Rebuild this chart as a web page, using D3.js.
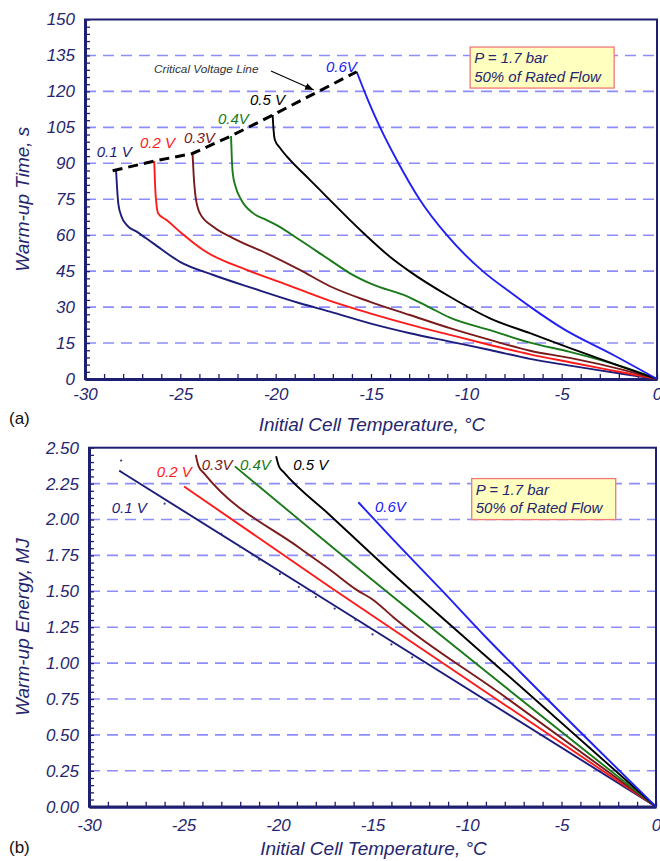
<!DOCTYPE html>
<html><head><meta charset="utf-8">
<script src="https://cdn.jsdelivr.net/npm/d3@7"></script>
<style>
html,body{margin:0;padding:0;background:#fff;}
svg{display:block;font-family:"Liberation Sans",Arial,sans-serif;}
.it{font-style:italic;}
</style></head>
<body><svg id="c" width="660" height="861"></svg>
<script>
// ---------- DATA ----------
const tempTicks = [-30, -25, -20, -15, -10, -5, 0];
const timeTicks = [0, 15, 30, 45, 60, 75, 90, 105, 120, 135, 150];
const energyTicks = [0, 0.25, 0.5, 0.75, 1.0, 1.25, 1.5, 1.75, 2.0, 2.25, 2.5];
const voltages = ["0.1 V", "0.2 V", "0.3V", "0.4V", "0.5 V", "0.6V"];
const seriesColors = ["#1c1c7a", "#ff1a1a", "#7a1a1a", "#1a7a1a", "#000000", "#2020f5"];

// (a) warm-up time [temperature °C, time s]
const timeV01 = [[-28.37,86.9],[-28.32,80],[-28.25,73],[-28.08,67.7],[-27.81,64.2],[-27.29,61.5],[-26.42,56.6],[-25.02,48.9],[-23.27,43.4],[-21.17,37.8],[-18.73,31.6],[-17.15,28.1],[-15.05,23.2],[-12.96,19.1],[-10.86,15.6],[-8.76,12.1],[-6.66,8.4],[-4.57,5.6],[-3.17,3.8],[-1.77,2.1],[0,0]];
const timeV02 = [[-26.37,90.9],[-26.32,80],[-26.24,72],[-26.16,69.1],[-25.72,66.3],[-24.93,60.8],[-23.8,53.8],[-21.52,45.5],[-19.6,39.9],[-17.15,32.6],[-15.05,27.4],[-12.96,22.7],[-10.86,18.4],[-8.76,14.2],[-6.66,10.3],[-4.57,7.0],[-1.77,2.7],[0,0]];
const timeV03 = [[-24.36,94.1],[-24.3,85],[-24.2,76],[-23.97,69.1],[-23.27,63.5],[-22.22,58.7],[-20.47,52.4],[-18.73,45.5],[-17.15,38.7],[-15.05,32.2],[-12.96,26.7],[-10.86,21.2],[-8.76,16.3],[-6.66,11.8],[-4.57,8.8],[-1.77,3.8],[0,0]];
const timeV04 = [[-22.34,101.4],[-22.3,92],[-22.25,85.8],[-22.1,80.2],[-21.8,74.7],[-21.17,69.1],[-20.47,66.3],[-19.95,64.2],[-18.73,58.0],[-17.15,49.6],[-16.1,44.1],[-15.05,39.9],[-12.96,34.0],[-11.91,29.8],[-10.86,25.6],[-8.76,20.4],[-6.66,15.2],[-4.57,11.3],[-1.77,5.0],[0,0]];
const timeV05 = [[-20.16,110.2],[-20.11,103.9],[-20.04,99.7],[-19.77,96.4],[-19.25,91.4],[-18.46,85.1],[-17.68,78.9],[-17.15,74.6],[-15.4,60.9],[-14.01,51.0],[-12.96,44.8],[-10.86,34.3],[-8.76,25.3],[-6.66,19.1],[-4.56,12.9],[-1.94,5.4],[0,0]];
const timeV06 = [[-15.75,128.2],[-15.16,116.4],[-14.53,105.1],[-13.65,91.4],[-12.43,74.7],[-11.03,60.1],[-9.11,44.8],[-7.71,36.3],[-6.66,30.2],[-4.91,20.9],[-2.29,10.0],[0,0]];
const criticalLine = [[-28.55,86.9],[-26.37,90.9],[-24.36,94.1],[-22.34,101.4],[-20.16,110.1],[-15.75,128.2]];

// (b) warm-up energy [temperature °C, energy MJ]
const energyV01 = [[-28.4,2.34],[-17.25,1.42],[0,0]];
const energyV02 = [[-24.97,2.23],[-17.25,1.53],[0,0]];
const energyV03 = [[-24.35,2.45],[-24.2,2.37],[-23.9,2.32],[-18.84,1.80],[-17.25,1.65],[-15.84,1.51],[-14.96,1.44],[-13.9,1.32],[-8.25,0.79],[0,0]];
const energyV04 = [[-22.28,2.37],[-17.25,1.82],[0,0]];
const energyV05 = [[-20.1,2.44],[-19.95,2.37],[-19.7,2.33],[-17.25,2.03],[-13.9,1.62],[-7.2,0.84],[0,0]];
const energyV06 = [[-15.75,2.12],[-13.98,1.87],[-11.43,1.52],[-9.0,1.18],[-7.2,0.94],[0,0]];
const energyDots = [[-28.3,2.41],[-26.0,2.11],[-23.0,1.90],[-22.0,1.81],[-21.0,1.72],[-19.9,1.62],[-18.9,1.53],[-18.0,1.46],[-17.0,1.38],[-15.9,1.30],[-15.0,1.20],[-14.0,1.13],[-12.9,1.04]];

// label anchors in data units
const timeLabelPos = [[-29.39,92.7],[-27.12,96.4],[-24.81,98.5],[-23.03,106.4],[-21.35,114.3],[-17.36,128.1]];
const energyLabelPos = [[-28.8,2.048],[-26.42,2.294],[-24.04,2.345],[-22.01,2.345],[-19.19,2.345],[-14.87,2.054]];
const boxLines = ["P = 1.7 bar", "50% of Rated Flow"];

// ---------- DRAW ----------
const svg = d3.select("#c");
const NAVY = "#1f1f72";
const TXT = "#26266e";
const GRID = "#8c8cff";
const FONT = "Liberation Sans, Arial, sans-serif";

function panel(o) {
  const g = svg.append("g");
  const x = d3.scaleLinear().domain([-30, 0]).range([o.x0, o.x1]);
  const y = d3.scaleLinear().domain([0, o.ymax]).range([o.y1, o.y0]);

  // grid
  g.append("g").selectAll("line").data(o.grid).join("line")
    .attr("x1", o.x0).attr("x2", o.x1)
    .attr("y1", d => y(d)).attr("y2", d => y(d))
    .attr("stroke", GRID).attr("stroke-width", 1.6).attr("stroke-dasharray", "11,7");

  // frame
  g.append("rect").attr("x", o.x0).attr("y", o.y0).attr("width", o.x1 - o.x0).attr("height", o.y1 - o.y0)
    .attr("fill", "none").attr("stroke", NAVY).attr("stroke-width", 2);

  // minor ticks (inward)
  const xm = g.append("g").attr("transform", `translate(0,${o.y1})`)
    .call(d3.axisBottom(x).tickValues(d3.range(-30, 1, 1)).tickSize(-5).tickFormat(""));
  xm.select(".domain").remove();
  xm.selectAll("line").attr("stroke", NAVY).attr("stroke-width", 1.3);
  const ym = g.append("g").attr("transform", `translate(${o.x0},0)`)
    .call(d3.axisLeft(y).tickValues(o.minor).tickSize(-5).tickFormat(""));
  ym.select(".domain").remove();
  ym.selectAll("line").attr("stroke", NAVY).attr("stroke-width", 1.3);

  // main axes with labels
  const xa = g.append("g").attr("transform", `translate(0,${o.y1})`)
    .call(d3.axisBottom(x).tickValues(tempTicks).tickSize(0).tickPadding(o.xpad).tickFormat(d => d < 0 ? "-" + Math.abs(d) : String(d)));
  xa.attr("font-family", FONT).attr("font-size", 17).attr("font-style", "italic");
  xa.select(".domain").attr("stroke", NAVY).attr("stroke-width", 3);
  xa.selectAll("text").attr("fill", TXT).style("font-style", "italic");
  const ya = g.append("g").attr("transform", `translate(${o.x0},0)`)
    .call(d3.axisLeft(y).tickValues(o.ticks).tickSize(0).tickPadding(10).tickFormat(o.fmt));
  ya.attr("font-family", FONT).attr("font-size", 17).attr("font-style", "italic");
  ya.select(".domain").attr("stroke", NAVY).attr("stroke-width", 3);
  ya.selectAll("text").attr("fill", TXT).style("font-style", "italic");

  // curves
  const line = d3.line().x(d => x(d[0])).y(d => y(d[1])).curve(d3.curveMonotoneX);
  o.series.forEach((s, i) => {
    g.append("path").attr("d", line(s)).attr("fill", "none")
      .attr("stroke", seriesColors[i]).attr("stroke-width", 1.9).attr("stroke-linejoin", "round");
  });
  // labels
  o.labelPos.forEach((p, i) => {
    g.append("text").attr("class", "it").attr("x", x(p[0])).attr("y", y(p[1])).text(voltages[i])
      .attr("fill", seriesColors[i]).attr("font-size", 15);
  });

  // note box
  const bx = x(o.box[0]), by = y(o.box[1]);
  g.append("rect").attr("x", bx).attr("y", by).attr("width", 144).attr("height", 41)
    .attr("fill", "#ffffc0").attr("stroke", "#f07878").attr("stroke-width", 1.3);
  boxLines.forEach((t, i) => {
    g.append("text").attr("class", "it").attr("x", bx + 4).attr("y", by + 16 + i * 18.5).text(t)
      .attr("fill", TXT).attr("font-size", 15);
  });

  // axis titles
  g.append("text").attr("class", "it").attr("x", (o.x0 + o.x1) / 2 + 1).attr("y", o.xtitleY).attr("text-anchor", "middle")
    .attr("fill", TXT).attr("font-size", 19).text("Initial Cell Temperature, °C");
  g.append("text").attr("class", "it").attr("transform", `translate(29,${(o.y0 + o.y1) / 2}) rotate(-90)`).attr("text-anchor", "middle")
    .attr("fill", TXT).attr("font-size", 19).text(o.ytitle);
  g.append("text").attr("x", 9).attr("y", o.tagY).attr("fill", "#111").attr("font-size", 17).text(o.tag);

  return {g, x, y, line};
}

const A = panel({
  x0: 85, x1: 657, y0: 19.5, y1: 379, ymax: 150,
  grid: timeTicks.slice(1, -1), ticks: timeTicks, minor: d3.range(0, 151, 3), fmt: d3.format("d"),
  series: [timeV01, timeV02, timeV03, timeV04, timeV05, timeV06], labelPos: timeLabelPos,
  box: [-9.8, 138.5], xpad: 9, xtitleY: 431, ytitle: "Warm-up Time, s", tag: "(a)", tagY: 424
});
// critical voltage line
A.g.append("path").attr("d", d3.line().x(d => A.x(d[0])).y(d => A.y(d[1]))(criticalLine))
  .attr("fill", "none").attr("stroke", "#000").attr("stroke-width", 3).attr("stroke-dasharray", "10,6");
A.g.append("text").attr("class", "it").attr("x", 154).attr("y", 73).text("Critical Voltage Line")
  .attr("fill", "#333").attr("font-size", 11.8);
svg.append("defs").append("marker").attr("id", "ah").attr("viewBox", "0 0 10 10").attr("refX", 10).attr("refY", 5)
  .attr("markerWidth", 8).attr("markerHeight", 8).attr("orient", "auto")
  .append("path").attr("d", "M0,1 L10,5 L0,9 Z").attr("fill", "#000");
A.g.append("line").attr("x1", 271).attr("y1", 71).attr("x2", A.x(-18.0)).attr("y2", A.y(120.6))
  .attr("stroke", "#000").attr("stroke-width", 1.1).attr("marker-end", "url(#ah)");

const B = panel({
  x0: 89, x1: 656, y0: 447.7, y1: 806.7, ymax: 2.5,
  grid: energyTicks.slice(1, -1), ticks: energyTicks, minor: d3.range(0, 51, 1).map(d => d * 0.05), fmt: d3.format(".2f"),
  series: [energyV01, energyV02, energyV03, energyV04, energyV05, energyV06], labelPos: energyLabelPos,
  box: [-9.75, 2.285], xpad: 12, xtitleY: 855, ytitle: "Warm-up Energy, MJ", tag: "(b)", tagY: 853
});
B.g.append("g").selectAll("circle").data(energyDots).join("circle")
  .attr("cx", d => B.x(d[0])).attr("cy", d => B.y(d[1])).attr("r", 1.1).attr("fill", "#3a3a8a");
</script>
</body></html>
